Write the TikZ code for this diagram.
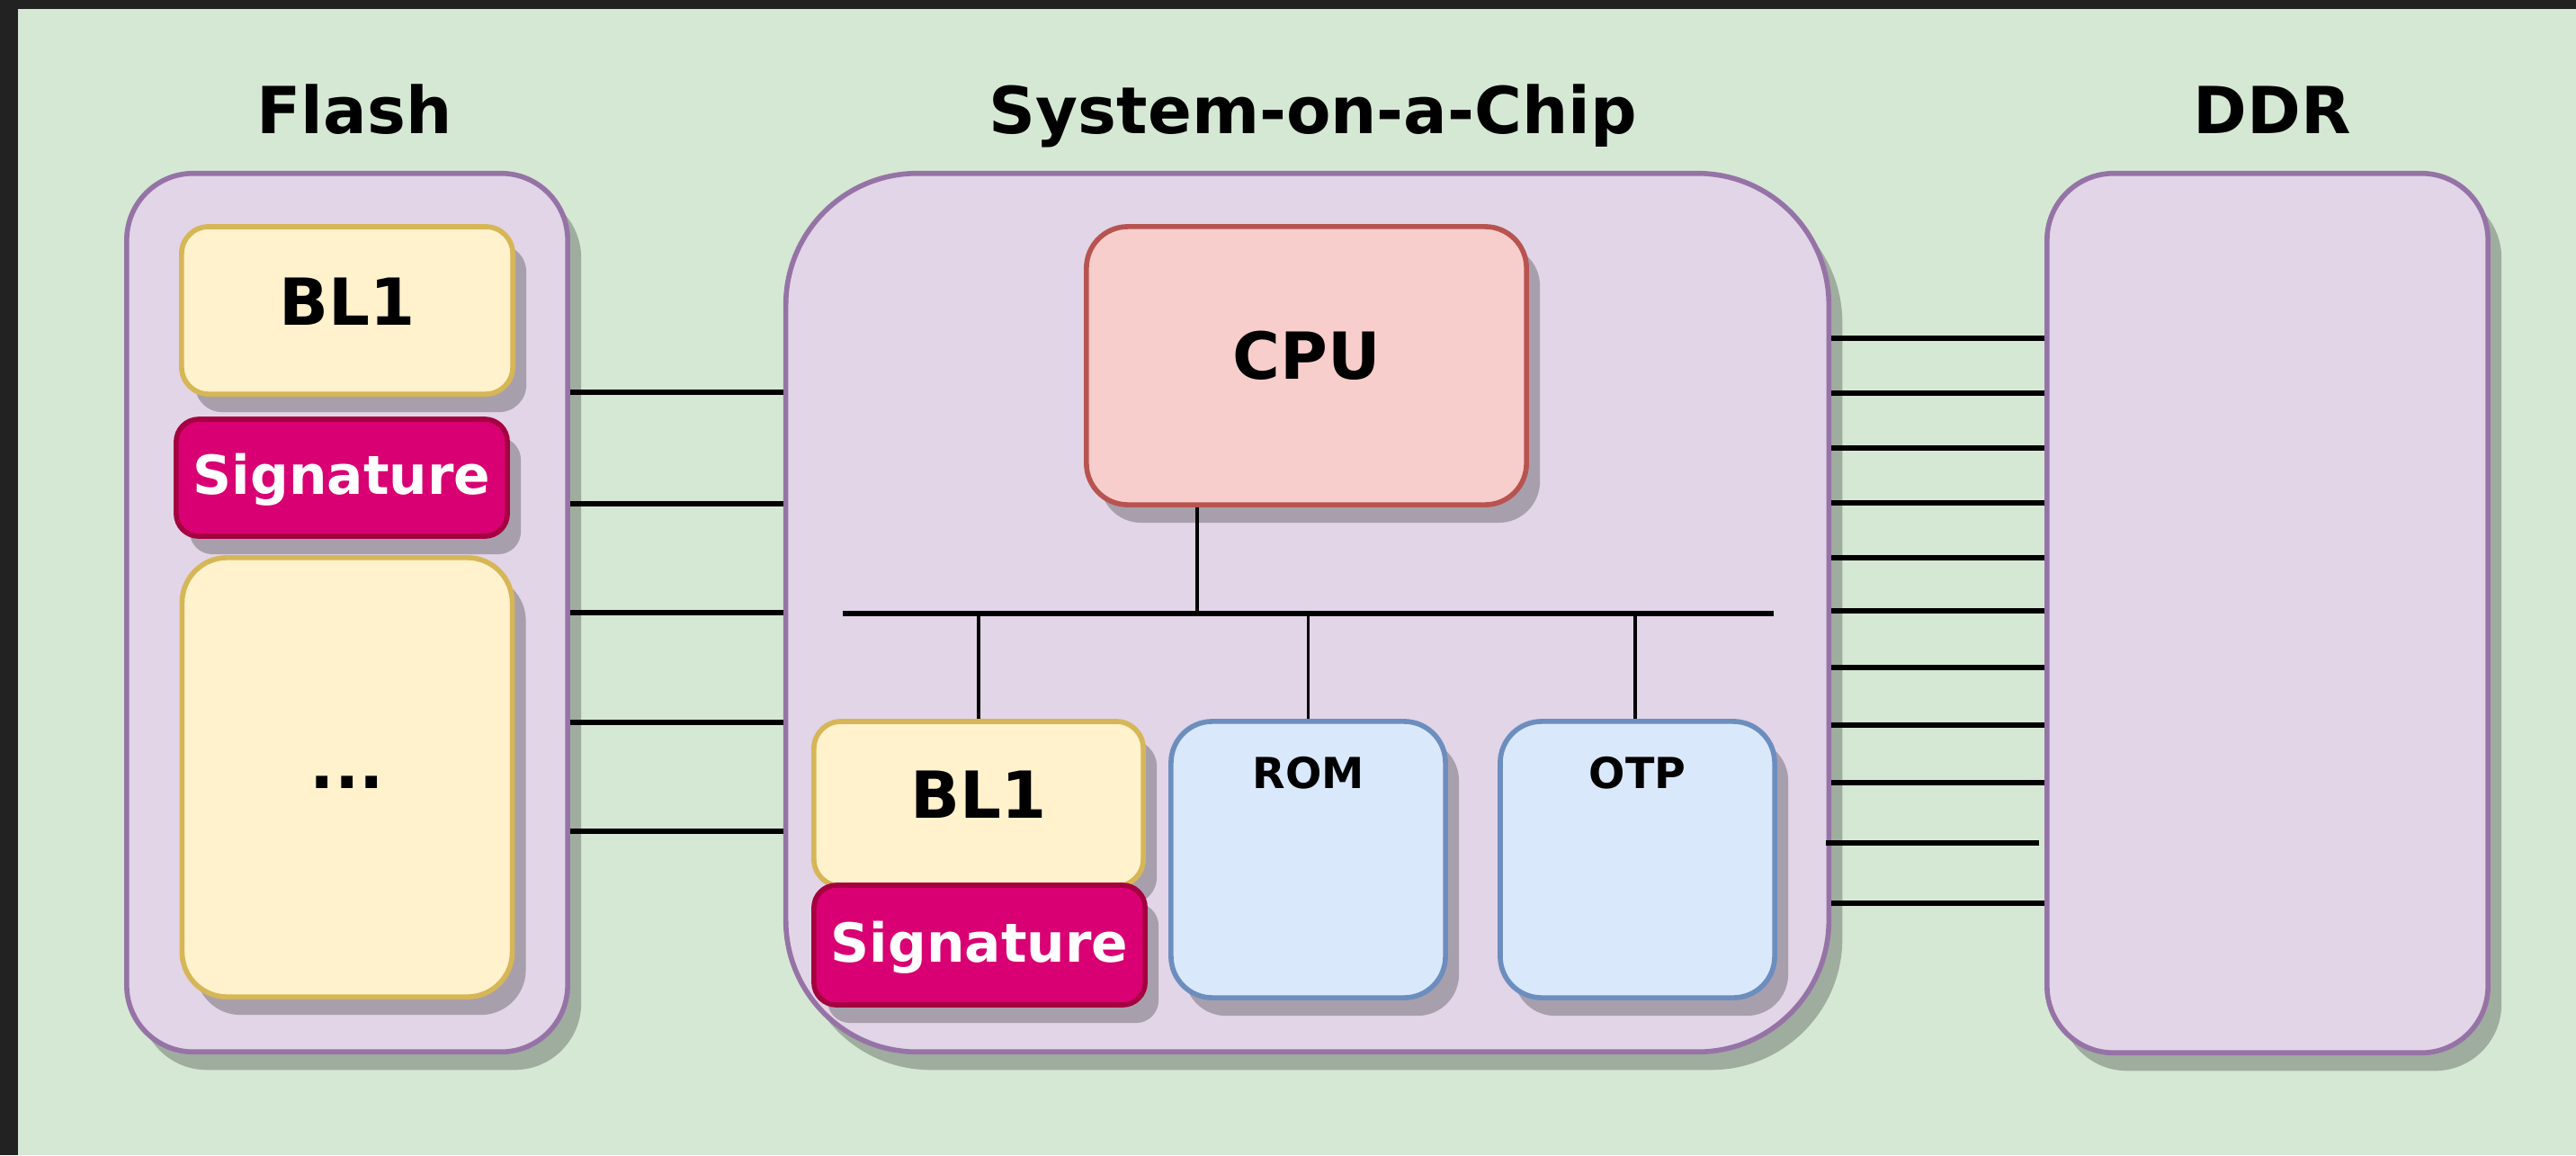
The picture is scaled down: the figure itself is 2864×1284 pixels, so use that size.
\documentclass[tikz,border=0pt]{standalone}
\usepackage{fontspec}
\setmainfont{DejaVu Sans}
\usetikzlibrary{shadows}

\definecolor{frame}{HTML}{222222}
\definecolor{bggreen}{HTML}{D5E8D4}
\definecolor{memfill}{HTML}{E1D5E7}
\definecolor{memline}{HTML}{9673A6}
\definecolor{imgfill}{HTML}{FFF2CC}
\definecolor{imgline}{HTML}{D6B656}
\definecolor{sigfill}{HTML}{D80073}
\definecolor{sigline}{HTML}{A50040}
\definecolor{cpufill}{HTML}{F8CECC}
\definecolor{cpuline}{HTML}{B85450}
\definecolor{romfill}{HTML}{DAE8FC}
\definecolor{romline}{HTML}{6C8EBF}

\tikzset{
  shade/.style={drop shadow={shadow xshift=0.15cm, shadow yshift=-0.2cm, fill=black, opacity=0.25}},
  box/.style={shade, line width=1.6pt, inner sep=0pt},
  membox/.style={box, draw=memline, fill=memfill},
  imgbox/.style={box, draw=imgline, fill=imgfill, rounded corners=0.3cm, font=\fontsize{20.5}{25}\selectfont\bfseries},
  sigbox/.style={box, draw=sigline, fill=sigfill, rounded corners=0.25cm, text=white, font=\fontsize{17}{21}\selectfont\bfseries},
  cpubox/.style={box, draw=cpuline, fill=cpufill, rounded corners=0.46cm, font=\fontsize{20.5}{25}\selectfont\bfseries},
  rombox/.style={box, draw=romline, fill=romfill, rounded corners=0.46cm},
  title/.style={anchor=base, font=\fontsize{20.5}{25}\selectfont\bfseries},
  wire/.style={line width=1.5pt},
  tap/.style={line width=1.1pt}
}

\begin{document}
\begin{tikzpicture}[x=0.01cm, y=-0.01cm]
\useasboundingbox (0,0) rectangle (2864,1284);
\fill[frame] (0,0) rectangle (2864,1284);
\fill[bggreen] (20,10) rectangle (2864,1284);

% titles
\node[title] (flashtitle) at (394,148) {Flash};
\node[title] (soctitle) at (1460,148) {System-on-a-Chip};
\node[title] (ddrtitle) at (2526,148) {DDR};

% flash
\node[membox, minimum width=4.90cm, minimum height=9.76cm, rounded corners=0.74cm] (flash) at (386,681) {};
\node[imgbox, minimum width=3.68cm, minimum height=1.86cm, text depth=0.2cm] (flashbl) at (386,345) {BL1};
\node[sigbox, minimum width=3.68cm, minimum height=1.30cm, text depth=0.08cm] (flashsig) at (380,531) {Signature};
\node[imgbox, minimum width=3.67cm, minimum height=4.88cm, rounded corners=0.5cm, text height=0.25cm, text depth=0pt] (flashrest) at (386,864) {...};

% system on a chip
\node[membox, minimum width=11.59cm, minimum height=9.76cm, rounded corners=1.46cm] (soc) at (1453.5,681) {};
\node[cpubox, minimum width=4.89cm, minimum height=3.09cm, text depth=0.23cm] (cpu) at (1452.5,406.5) {CPU};
\node[imgbox, minimum width=3.66cm, minimum height=1.83cm, text depth=0.2cm] (socbl) at (1088,893.5) {BL1};
\node[sigbox, minimum width=3.68cm, minimum height=1.33cm, text depth=0.08cm] (socsig) at (1089,1050.5) {Signature};
\node[rombox, minimum width=3.05cm, minimum height=3.07cm,
  label={[anchor=center, yshift=-0.6cm, font=\fontsize{13.5}{16}\selectfont\bfseries]north:ROM}] (rom) at (1454.5,955.5) {};
\node[rombox, minimum width=3.05cm, minimum height=3.07cm,
  label={[anchor=center, yshift=-0.6cm, font=\fontsize{13.5}{16}\selectfont\bfseries]north:OTP}] (otp) at (1820.5,955.5) {};

% ddr
\node[membox, minimum width=4.90cm, minimum height=9.77cm, rounded corners=0.74cm] (ddr) at (2521,681.5) {};

% bus
\coordinate (busL) at (937,682);
\coordinate (busR) at (1972,682);
\coordinate (cputap) at (1331,682);
\draw[wire] (busL) -- (busR);
\draw[tap] (cputap |- cpu.south) -- (cputap);
\draw[tap] (socbl.north) -- (socbl.north |- busL);
\draw[tap] (rom.north) -- (rom.north |- busL);
\draw[tap] ([xshift=-0.025cm]otp.north) -- ([xshift=-0.025cm]otp.north |- busL);

% flash lines
\foreach \y in {436,560,681,803,924} {
  \coordinate (h) at (0,\y);
  \draw[wire] (flash.east |- h) -- (soc.west |- h);
}

% ddr lines
\foreach \y in {376,437,498,559,620,679,742,806,870,1004} {
  \coordinate (h) at (0,\y);
  \draw[wire] (soc.east |- h) -- (ddr.west |- h);
}
\coordinate (h) at (0,937);
\draw[wire] ([xshift=-0.06cm]soc.east |- h) -- ([xshift=-0.06cm]ddr.west |- h);
\end{tikzpicture}
\end{document}
